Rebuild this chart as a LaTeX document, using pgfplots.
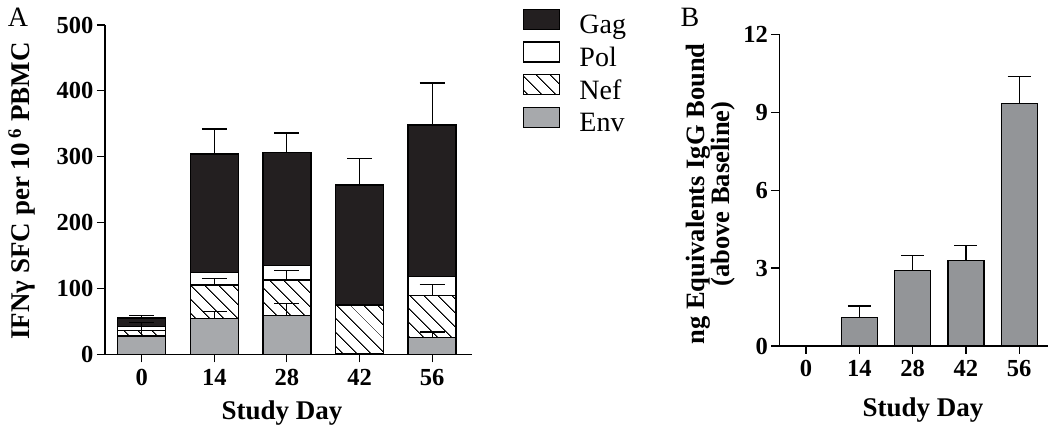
\documentclass[border=0pt]{standalone}
\usepackage{pgfplots}
\pgfplotsset{compat=1.18}
\usepackage{fontspec}
\setmainfont{Liberation Serif}
\usetikzlibrary{patterns.meta}
\definecolor{gag}{HTML}{231F20}
\definecolor{env}{HTML}{A7A9AC}
\definecolor{barb}{HTML}{939598}
\begin{document}
\begin{tikzpicture}
\useasboundingbox (0pt,0pt) rectangle (1050pt,427pt);
\pgfplotsset{
  common/.style={scale only axis, axis lines*=left,
    axis line style={line width=1.3pt, black},
    tick align=outside, major tick length=8pt,
    tick style={line width=1.2pt, black},
    every tick label/.append style={font=\fontsize{24.5}{28}\selectfont\bfseries},
    xticklabel style={yshift=-3pt},
    /pgf/number format/assume math mode=true,
    xtick={0,1,2,3,4}, xticklabels={0,14,28,42,56}, clip=false},
  lg/.style={legend image code/.code={\draw[##1, line width=1.2pt] (0pt,-2pt) rectangle (36pt,18pt);}},
  eb/.style={draw=none, mark=none, forget plot,
    error bars/.cd, y dir=plus, y explicit,
    error bar style={draw=black, line width=1.2pt, solid},
    error mark options={draw=black, line width=1.2pt, rotate=90, mark size=#1}}
}
% Panel A
\begin{axis}[common, at={(105pt,72.7pt)}, anchor=south west,
  width=366.7pt, height=329.3pt,
  xmin=-0.505, xmax=4.545, ymin=0, ymax=500,
  ytick={0,100,200,300,400,500},
  ybar stacked, bar width=48pt,
  reverse legend,
  legend style={at={(1.14,1.05)}, anchor=north west, draw=none, fill=none,
    font=\fontsize{28}{30}\selectfont, inner sep=0pt,
    nodes={text height=19pt, text depth=6pt, inner xsep=4pt, inner ysep=1.5pt},
    column sep=15pt},
  legend cell align=left]
\addplot[lg, fill=env, draw=black, line width=1.3pt] coordinates {(0,28) (1,54) (2,59) (3,1) (4,26)};
\addlegendentry{Env}
\addplot[lg, pattern={Lines[angle=-45,distance=10.5pt,line width=1.1pt]}, pattern color=black, draw=black, line width=1.3pt] coordinates {(0,8) (1,51) (2,54) (3,74) (4,63)};
\addlegendentry{Nef}
\addplot[lg, fill=white, draw=black, line width=1.3pt] coordinates {(0,6) (1,19) (2,22) (3,0) (4,29)};
\addlegendentry{Pol}
\addplot[lg, fill=gag, draw=black, line width=1.3pt] coordinates {(0,13) (1,180) (2,171) (3,182) (4,230)};
\addlegendentry{Gag}
\end{axis}
% error bars for panel A (at the top of each stacked segment)
\begin{axis}[scale only axis, hide axis, at={(105pt,72.7pt)}, anchor=south west,
  width=366.7pt, height=329.3pt,
  xmin=-0.505, xmax=4.545, ymin=0, ymax=500, clip=false]
\addplot[eb=12.5pt] coordinates {(0,28) +- (0,20) (1,54) +- (0,11) (2,59) +- (0,18) (4,26) +- (0,8)};
\addplot[eb=12.5pt] coordinates {(0,36) +- (0,12) (1,105) +- (0,10) (2,113) +- (0,14) (4,89) +- (0,17)};
\addplot[eb=12.5pt] coordinates {(0,55) +- (0,4) (1,304) +- (0,38) (2,306) +- (0,30) (3,257) +- (0,40) (4,348) +- (0,64)};
\end{axis}
% Panel B
\begin{axis}[common, at={(779.3pt,81pt)}, anchor=south west,
  width=268.7pt, height=311.7pt,
  xmin=-0.5, xmax=4.54, ymin=0, ymax=12,
  ytick={0,3,6,9,12},
  ybar, bar width=36pt, bar shift=0pt]
\addplot[fill=barb, draw=black, line width=1.3pt] coordinates {(0,0)};
\addplot[fill=barb, draw=black, line width=1.3pt,
  error bars/.cd, y dir=plus, y explicit,
  error bar style={draw=black, line width=1.2pt},
  error mark options={draw=black, line width=1.2pt, rotate=90, mark size=11.5pt}]
  coordinates {(1,1.09) +- (0,0.45) (2,2.9) +- (0,0.58) (3,3.3) +- (0,0.58) (4,9.33) +- (0,1.03)};
\end{axis}
% labels
\node[font=\fontsize{28}{30}\selectfont] at (18pt,410pt) {A};
\node[font=\fontsize{28}{30}\selectfont] at (690pt,410pt) {B};
\node[font=\fontsize{27}{29}\selectfont\bfseries, rotate=90] at (22pt,236pt) {IFNγ SFC per 10\,\textsuperscript{6} PBMC};
\node[font=\fontsize{26.5}{24}\selectfont\bfseries, rotate=90, align=center] at (711pt,233pt) {ng Equivalents IgG Bound\\(above Baseline)};
\node[font=\fontsize{27}{29}\selectfont\bfseries] at (282pt,14.3pt) {Study Day};
\node[font=\fontsize{27}{29}\selectfont\bfseries] at (923pt,17pt) {Study Day};
\end{tikzpicture}
\end{document}
